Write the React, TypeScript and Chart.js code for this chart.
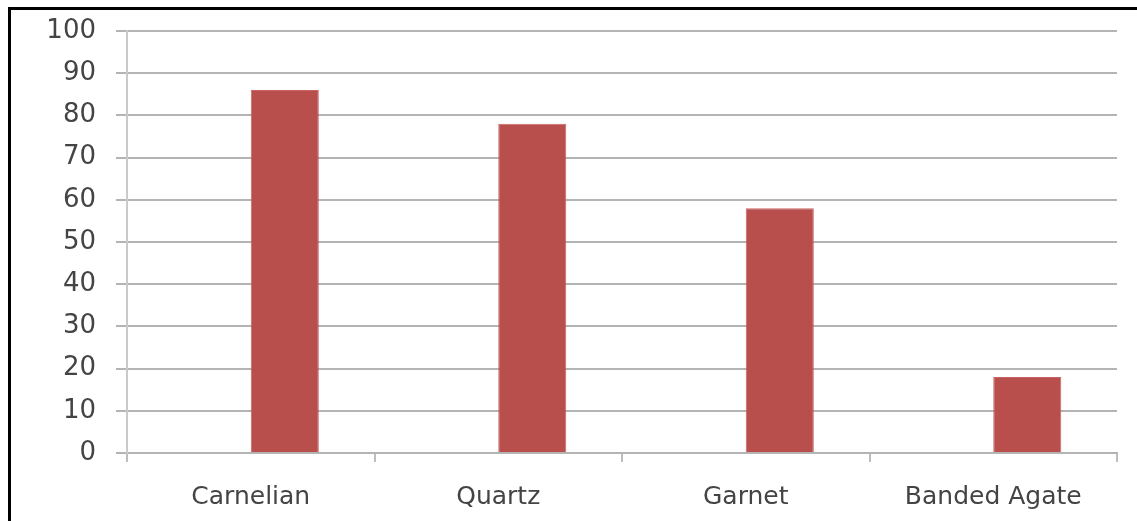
import React, { useEffect, useRef } from "react";
import { Chart, registerables } from "chart.js";

Chart.register(...registerables);

const categories = ["Carnelian", "Quartz", "Garnet", "Banded Agate"];
const emptySeries = [null, null, null, null];
const values = [86, 78, 58, 18];
const yTicks = [0, 10, 20, 30, 40, 50, 60, 70, 80, 90, 100];

export default function App() {
  const ref = useRef<HTMLCanvasElement>(null);
  useEffect(() => {
    if (!ref.current) return;
    const chart = new Chart(ref.current, {
      type: "bar",
      data: {
        labels: categories,
        datasets: [
          { label: "blank", data: emptySeries as any, backgroundColor: "rgba(0,0,0,0)" },
          {
            label: "Value",
            data: values,
            backgroundColor: "#B84F4D",
            borderColor: "#C86564",
            borderWidth: 1,
          },
        ],
      },
      options: {
        animation: false,
        responsive: false,
        events: [],
        layout: { padding: { left: 0, right: 20, top: 31, bottom: 0 } },
        plugins: { legend: { display: false }, tooltip: { enabled: false } },
        datasets: { bar: { categoryPercentage: 0.55, barPercentage: 1 } },
        scales: {
          x: {
            grid: {
              display: true,
              drawOnChartArea: false,
              offset: true,
              color: "#BDBDBD",
              lineWidth: 2,
              tickLength: 9,
            },
            border: { display: true, color: "#B4B4B4", width: 2 },
            ticks: {
              color: "#444444",
              font: { family: "DejaVu Sans", size: 25 },
              padding: 20,
              maxRotation: 0,
              autoSkip: false,
            },
            afterFit: (s: any) => {
              s.height = 68;
              s.paddingLeft = 0;
              s.paddingRight = 0;
            },
          },
          y: {
            min: 0,
            max: 100,
            afterBuildTicks: (s: any) => {
              s.ticks = yTicks.map((v) => ({ value: v }));
            },
            grid: { color: "#B4B4B4", lineWidth: 2, tickLength: 11 },
            border: { display: true, color: "#CACACA", width: 2 },
            ticks: {
              color: "#444444",
              font: { family: "DejaVu Sans", size: 26 },
              padding: 20,
              autoSkip: false,
            },
            afterFit: (s: any) => {
              s.width = 127;
              s.paddingTop = 0;
              s.paddingBottom = 0;
            },
          },
        },
      },
    });
    return () => chart.destroy();
  }, []);
  return (
    <div style={{ position: "fixed", left: 0, top: 0, width: 1137, height: 521, background: "#fff" }}>
      <canvas ref={ref} width={1137} height={521} style={{ position: "absolute", left: 0, top: 0 }} />
      <div
        style={{
          position: "absolute",
          left: 8,
          top: 7,
          width: 1200,
          height: 600,
          borderLeft: "3px solid #000",
          borderTop: "3px solid #000",
          pointerEvents: "none",
        }}
      />
    </div>
  );
}
